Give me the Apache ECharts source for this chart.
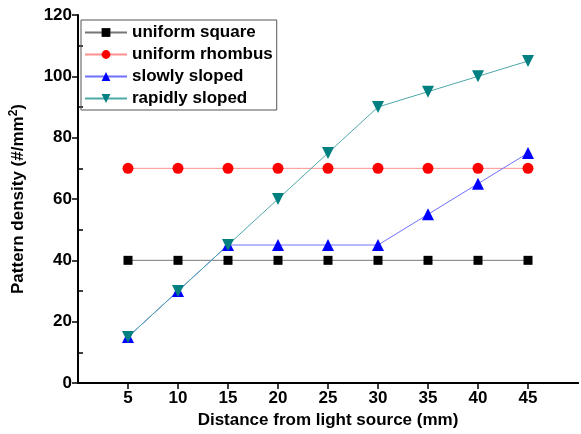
<!DOCTYPE html>
<html>
<head>
<meta charset="utf-8">
<script src="https://cdn.jsdelivr.net/npm/echarts@6/dist/echarts.min.js"></script>
<style>
html,body{margin:0;padding:0;background:#fff;}
#chart{width:581px;height:434px;}
</style>
</head>
<body>
<div id="chart"></div>
<script>
var distances = [5, 10, 15, 20, 25, 30, 35, 40, 45];
var uniformSquare = [40, 40, 40, 40, 40, 40, 40, 40, 40];
var uniformRhombus = [70, 70, 70, 70, 70, 70, 70, 70, 70];
var slowlySloped = [15, 30, 45, 45, 45, 45, 55, 65, 75];
var rapidlySloped = [15, 30, 45, 60, 75, 90, 95, 100, 105];
var seriesNames = ['uniform square', 'uniform rhombus', 'slowly sloped', 'rapidly sloped'];
var xTicks = [5, 10, 15, 20, 25, 30, 35, 40, 45];
var yMinorTicks = [10, 30, 50, 70, 90, 110];

var FONT = '"Liberation Sans", Arial, sans-serif';

function pairs(vals){
	var out = [];
	for (var i = 0; i < distances.length; i++) {
		out.push([distances[i], vals[i]]);
	}
	return out;
}

function mkSeries(name, vals, symbol, size, color, lineColor, rotate){
	return {
		name: name,
		type: 'line',
		data: pairs(vals),
		symbol: symbol,
		symbolSize: size,
		symbolRotate: rotate || 0,
		showSymbol: true,
		itemStyle: {color: color},
		lineStyle: {color: lineColor, width: 1},
		emphasis: {disabled: true},
		animation: false
	};
}

var chart = echarts.init(document.getElementById('chart'));
var option = {
	backgroundColor: '#fff',
	animation: false,
	grid: {left: 76, top: 15, right: 0, bottom: 51},
	legend: {
		left: 81, top: 20,
		orient: 'vertical',
		itemGap: 5,
		itemWidth: 42,
		itemHeight: 11,
		padding: [4, 4, 3, 3],
		borderColor: '#555',
		borderWidth: 1,
		textStyle: {fontFamily: FONT, fontWeight: 'bold', fontSize: 17, color: '#000'},
		data: seriesNames
	},
	xAxis: [{
		type: 'value',
		min: 0, max: 50, interval: 5,
		name: 'Distance from light source (mm)',
		nameLocation: 'middle',
		nameGap: 24,
		nameTextStyle: {fontFamily: FONT, fontWeight: 'bold', fontSize: 17, color: '#000'},
		axisLine: {lineStyle: {color: '#000', width: 2}},
		axisTick: {show: true, length: 6, customValues: xTicks, lineStyle: {color: '#000', width: 1.5}},
		axisLabel: {
			fontFamily: FONT, fontWeight: 'bold', fontSize: 17, color: '#000', margin: 7,
			formatter: function(v){ return (v === 0 || v === 50) ? '' : v; }
		},
		splitLine: {show: false}
	}, {
		type: 'value', position: 'top',
		min: 0, max: 50,
		axisLine: {show: true, lineStyle: {color: '#000', width: 2}},
		axisTick: {show: false}, axisLabel: {show: false}, splitLine: {show: false}
	}],
	yAxis: [{
		type: 'value',
		min: 0, max: 120, interval: 20,
		name: '{t|Pattern density (#/mm}{s|2}{t|)}',
		nameLocation: 'middle',
		nameGap: 50,
		nameTextStyle: {
			rich: {
				t: {fontFamily: FONT, fontWeight: 'bold', fontSize: 17, color: '#000'},
				s: {fontFamily: FONT, fontWeight: 'bold', fontSize: 12, color: '#000', verticalAlign: 'top', padding: [0, 0, 8, 0]}
			}
		},
		axisLine: {show: true, lineStyle: {color: '#000', width: 2}},
		axisTick: {show: true, length: 6, lineStyle: {color: '#000', width: 1.5}},
		axisLabel: {fontFamily: FONT, fontWeight: 'bold', fontSize: 17, color: '#000', margin: 6},
		splitLine: {show: false}
	}, {
		type: 'value',
		position: 'left',
		min: 0, max: 120,
		axisLine: {show: false},
		axisTick: {show: true, inside: true, length: 5, customValues: yMinorTicks, lineStyle: {color: '#000', width: 1.5}},
		axisLabel: {show: false},
		splitLine: {show: false}
	}],
	series: [
		mkSeries(seriesNames[0], uniformSquare, 'rect', 9, '#000', '#777'),
		mkSeries(seriesNames[1], uniformRhombus, 'circle', 11, '#ff0000', '#ff9090'),
		mkSeries(seriesNames[2], slowlySloped, 'triangle', 12, '#0000ff', '#7070ff'),
		mkSeries(seriesNames[3], rapidlySloped, 'triangle', 12, '#008080', '#4fa8a8', 180)
	]
};
chart.setOption(option);
</script>
</body>
</html>
